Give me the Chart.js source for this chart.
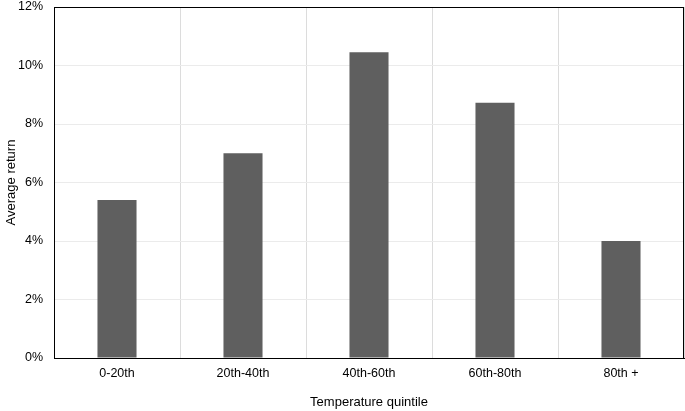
<!DOCTYPE html>
<html>
<head>
<meta charset="utf-8">
<script src="https://cdn.jsdelivr.net/npm/chart.js@4/dist/chart.umd.min.js"></script>
<style>
  html, body { margin: 0; padding: 0; background: #fff; }
  #wrap { width: 685px; height: 411px; position: relative; }
</style>
</head>
<body>
<div id="wrap"><canvas id="chart"></canvas></div>
<script>
const categories = ['0-20th', '20th-40th', '40th-60th', '60th-80th', '80th +'];
const avgReturn = [5.4, 7.0, 10.45, 8.73, 4.0];
const yTicks = [0, 2, 4, 6, 8, 10, 12];

// 枠線（上・右も含めて黒い箱）
const boxPlugin = {
    id: 'box',
    afterDraw: (chart) => {
        const { ctx, chartArea } = chart;
        ctx.save();
        ctx.strokeStyle = '#000';
        ctx.lineWidth = 1;
        ctx.strokeRect(chartArea.left + 0.5, chartArea.top + 0.5,
            chartArea.right - chartArea.left - 1, chartArea.bottom - chartArea.top);
        ctx.restore();
    }
};

Chart.defaults.font.family = '"Liberation Sans", Arial, sans-serif';
Chart.defaults.color = '#000';

new Chart(document.getElementById('chart').getContext('2d'), {
    type: 'bar',
    data: {
        labels: categories,
        datasets: [{
            data: avgReturn,
            backgroundColor: '#5f5f5f',
            borderWidth: 0,
            barPercentage: 0.31,
            categoryPercentage: 1
        }]
    },
    options: {
        responsive: true,
        maintainAspectRatio: false,
        animation: false,
        layout: { padding: { top: 0, right: 1, left: 0, bottom: 0 } },
        plugins: {
            legend: { display: false },
            tooltip: { enabled: false }
        },
        scales: {
            x: {
                grid: { color: '#dcdcdc', offset: true, drawTicks: false },
                border: { color: '#000' },
                ticks: { font: { size: 12.5 }, padding: 8 },
                title: { display: true, text: 'Temperature quintile', font: { size: 13 }, padding: { top: 15, bottom: 1 } },
                afterFit: (axis) => { axis.height = 53; }
            },
            y: {
                min: 0,
                max: 12,
                afterBuildTicks: (axis) => { axis.ticks = yTicks.map(v => ({ value: v })); },
                grid: { color: '#ebebeb', drawTicks: false },
                border: { color: '#000' },
                ticks: {
                    font: { size: 12.5 },
                    padding: 11,
                    callback: (v) => v + '%'
                },
                title: { display: true, text: 'Average return', font: { size: 13 }, padding: { bottom: 2 } },
                afterFit: (axis) => {
                    axis.width = 54;
                    axis.paddingTop = 7;
                    axis.paddingBottom = 7;
                }
            }
        }
    },
    plugins: [boxPlugin]
});
</script>
</body>
</html>
